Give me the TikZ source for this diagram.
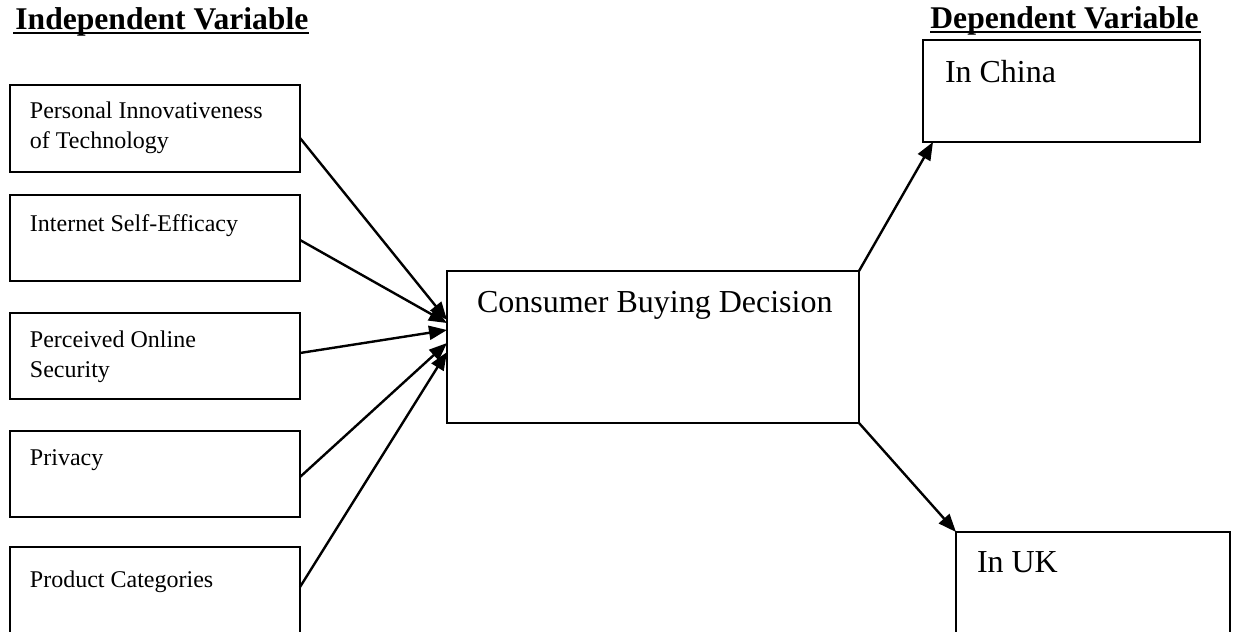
\documentclass[tikz,border=0pt]{standalone}
\usepackage{fontspec}
\setmainfont{Liberation Serif}
\usetikzlibrary{arrows.meta}

% box text: height, width, indent, first baseline, text
\newcommand{\boxtext}[5]{\parbox[t][#1][t]{#2}{\leftskip=#3\rule{0pt}{#4}#5}}

\tikzset{
  varbox/.style={draw, line width=1.2pt, anchor=north west, inner sep=0pt, outer sep=0pt},
  smalltxt/.style={font=\fontsize{12}{15}\selectfont},
  bigtxt/.style={font=\fontsize{16}{19}\selectfont},
  header/.style={anchor=base west, inner sep=0pt, font=\fontsize{15.8}{18}\selectfont\bfseries},
  arr/.style={line width=1.2pt, -{Triangle[length=9pt,width=7pt]}}
}

\begin{document}
\begin{tikzpicture}[x=0.5pt, y=-0.5pt]
\useasboundingbox (0,0) rectangle (1233,632);

% headings
\node[header] (indep) at (15,29) {Independent Variable\ };
\node[header] (dep) at (930,28) {Dependent Variable};
\draw[line width=1.2pt] ([shift={(-2,4)}]indep.base west) -- ([shift={(0,4)}]indep.base east);
\draw[line width=1.2pt] ([shift={(0,4)}]dep.base west) -- ([shift={(2,4)}]dep.base east);

% independent variables
\node[varbox, smalltxt] (pit) at (10,85) {\boxtext{43.5pt}{145pt}{10pt}{16.5pt}{Personal Innovativeness\\of Technology}};
\node[varbox, smalltxt] (ise) at (10,195) {\boxtext{43pt}{145pt}{10pt}{18pt}{Internet Self-Efficacy}};
\node[varbox, smalltxt] (pos) at (10,313) {\boxtext{43pt}{145pt}{10pt}{17pt}{Perceived Online\\Security}};
\node[varbox, smalltxt] (prv) at (10,431) {\boxtext{43pt}{145pt}{10pt}{17pt}{Privacy}};
\node[varbox, smalltxt] (prc) at (10,547) {\boxtext{50pt}{145pt}{10pt}{20pt}{Product Categories}};

% decision and dependent variables
\node[varbox, bigtxt] (cbd) at (447,271) {\boxtext{76pt}{206pt}{15pt}{20.5pt}{Consumer Buying Decision}};
\node[varbox, bigtxt] (chn) at (923,40) {\boxtext{51pt}{138.5pt}{11pt}{21pt}{In China}};
\node[varbox, bigtxt] (uk) at (956,532) {\boxtext{55pt}{137pt}{10.5pt}{20pt}{In UK}};

% connectors
\draw[arr] ([shift={(0,9.5)}]pit.east) -- ([shift={(0,-27)}]cbd.west);
\draw[arr] ([shift={(0,2)}]ise.east) -- ([shift={(0,-24)}]cbd.west);
\draw[arr] ([shift={(0,-3)}]pos.east) -- ([shift={(0,-17)}]cbd.west);
\draw[arr] ([shift={(0,3)}]prv.east) -- ([shift={(0,-4)}]cbd.west);
\draw[arr] ([shift={(0,-10)}]prc.east) -- ([shift={(0,5)}]cbd.west);
\draw[arr] (cbd.north east) -- ([shift={(10,0)}]chn.south west);
\draw[arr] (cbd.south east) -- (uk.north west);
\end{tikzpicture}
\end{document}
